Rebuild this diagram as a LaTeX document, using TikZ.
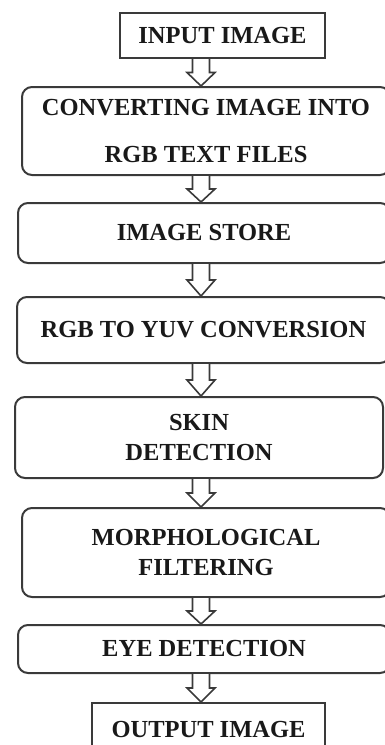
\documentclass[tikz,border=0pt]{standalone}
\usepackage{fontspec}
\setmainfont{Liberation Serif}
\usepackage{tikz}
\usetikzlibrary{calc,positioning,shapes}

\definecolor{linegray}{HTML}{3A3A3A}
\tikzset{
  stepbase/.style = {draw=linegray, line width=2pt, inner sep=0pt, align=center,
                     font=\fontsize{24.5}{30}\selectfont\bfseries, text=black!90},
  plainbox/.style = {stepbase},
  roundbox/.style = {stepbase, rounded corners=10pt},
  flowline/.style = {draw=linegray, line width=1.6pt, line join=miter, fill=white}
}
% hollow down arrow between two boxes, on the column x = colx
\newcommand{\flowarrow}[2]{%
  \path (#1.south -| colx) coordinate (t) (#2.north -| colx) coordinate (h)
        ($(t)!0.5!(h)$) coordinate (m);
  \draw[flowline] ($(t)+(-8.5,0)$) -- ($(m)+(-8.5,0)$) -- ($(m)+(-14,0)$) -- (h)
        -- ($(m)+(14,0)$) -- ($(m)+(8.5,0)$) -- ($(t)+(8.5,0)$);
}

\begin{document}
\begin{tikzpicture}[x=1pt, y=-1pt]
\useasboundingbox (0,0) rectangle (385,745);
\clip (0,0) rectangle (385,745);
\coordinate (colx) at (201,0);

\node[plainbox, minimum width=205pt, minimum height=45pt] (input) at (222.5,35.5) {INPUT IMAGE};
\node[roundbox, minimum width=368pt, minimum height=88pt] (convert) at (206,131)
  {CONVERTING IMAGE INTO\\[17pt]RGB TEXT FILES};
\node[roundbox, minimum width=372pt, minimum height=60pt] (store) at (204,233) {IMAGE STORE};
\node[roundbox, minimum width=373pt, minimum height=66pt] (yuv) at (203.5,330) {RGB TO YUV CONVERSION};
\node[roundbox, minimum width=368pt, minimum height=81pt] (skin) at (199,437.5) {SKIN\\DETECTION};
\node[roundbox, minimum width=368pt, minimum height=89pt] (morph) at (206,552.5) {MORPHOLOGICAL\\FILTERING};
\node[roundbox, minimum width=372pt, minimum height=48pt] (eye) at (204,649) {EYE DETECTION};
\node[plainbox, minimum width=233pt, minimum height=52pt] (output) at (208.5,729) {OUTPUT IMAGE};

\flowarrow{input}{convert}
\flowarrow{convert}{store}
\flowarrow{store}{yuv}
\flowarrow{yuv}{skin}
\flowarrow{skin}{morph}
\flowarrow{morph}{eye}
\flowarrow{eye}{output}
\end{tikzpicture}
\end{document}
